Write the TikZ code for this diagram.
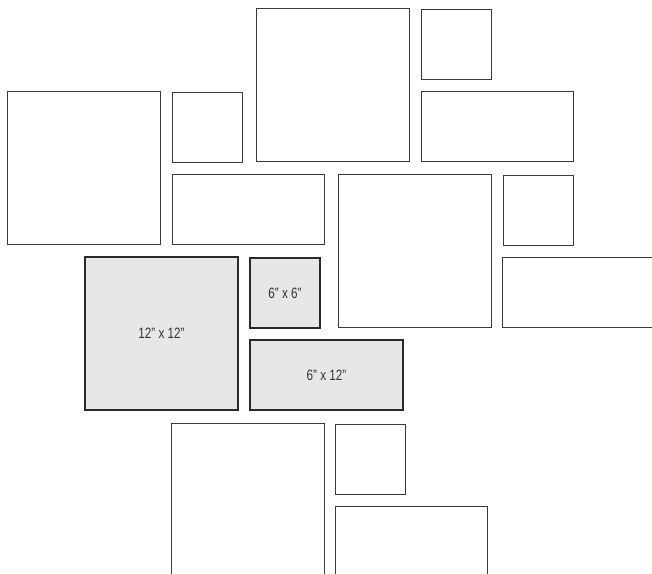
\documentclass[tikz,border=0pt]{standalone}
\usepackage{fontspec}
\newfontfamily\condfont[FakeStretch=0.78]{Liberation Sans}
\definecolor{boxline}{HTML}{3A3A3A}
\definecolor{sizefill}{HTML}{E6E7E8}
\definecolor{sizeline}{HTML}{2A2A2A}
\begin{document}
\begin{tikzpicture}[x=1pt,y=-1pt,
  frame/.style={draw=boxline,line width=1pt,fill=white,rectangle,anchor=north west,inner sep=0pt,outer sep=0pt},
  sizebox/.style={draw=sizeline,line width=1.7pt,fill=sizefill,rectangle,anchor=north west,inner sep=0pt,outer sep=0pt,font=\condfont\fontsize{15}{17}\selectfont,text=black!80},
  sq/.style={minimum width=153pt,minimum height=153pt},
  sm/.style={minimum width=70pt,minimum height=70pt},
  wd/.style={minimum width=152pt,minimum height=70pt}]
\useasboundingbox (0,0) rectangle (652,573);
\clip (0,0) rectangle (652,573);
\node[frame,sq] (a1) at (256,8) {};
\node[frame,sm] (a2) at (421,9) {};
\node[frame,wd] (a3) at (421,91) {};
\node[frame,sq] (b1) at (7,91) {};
\node[frame,sm] (b2) at (172,92) {};
\node[frame,wd] (b3) at (172,174) {};
\node[frame,sq] (c1) at (338,174) {};
\node[frame,sm] (c2) at (503,175) {};
\node[frame,wd] (c3) at (502,257) {};
\node[sizebox,sq] (g1) at (85,257) {12\textquotedblright\ x 12\textquotedblright};
\node[sizebox,sm] (g2) at (250,258) {6\textquotedblright\ x 6\textquotedblright};
\node[sizebox,wd,minimum width=153pt] (g3) at (250,340) {6\textquotedblright\ x 12\textquotedblright};
\node[frame,sq] (d1) at (171,423) {};
\node[frame,sm] (d2) at (335,424) {};
\node[frame,wd] (d3) at (335,506) {};
\end{tikzpicture}
\end{document}
